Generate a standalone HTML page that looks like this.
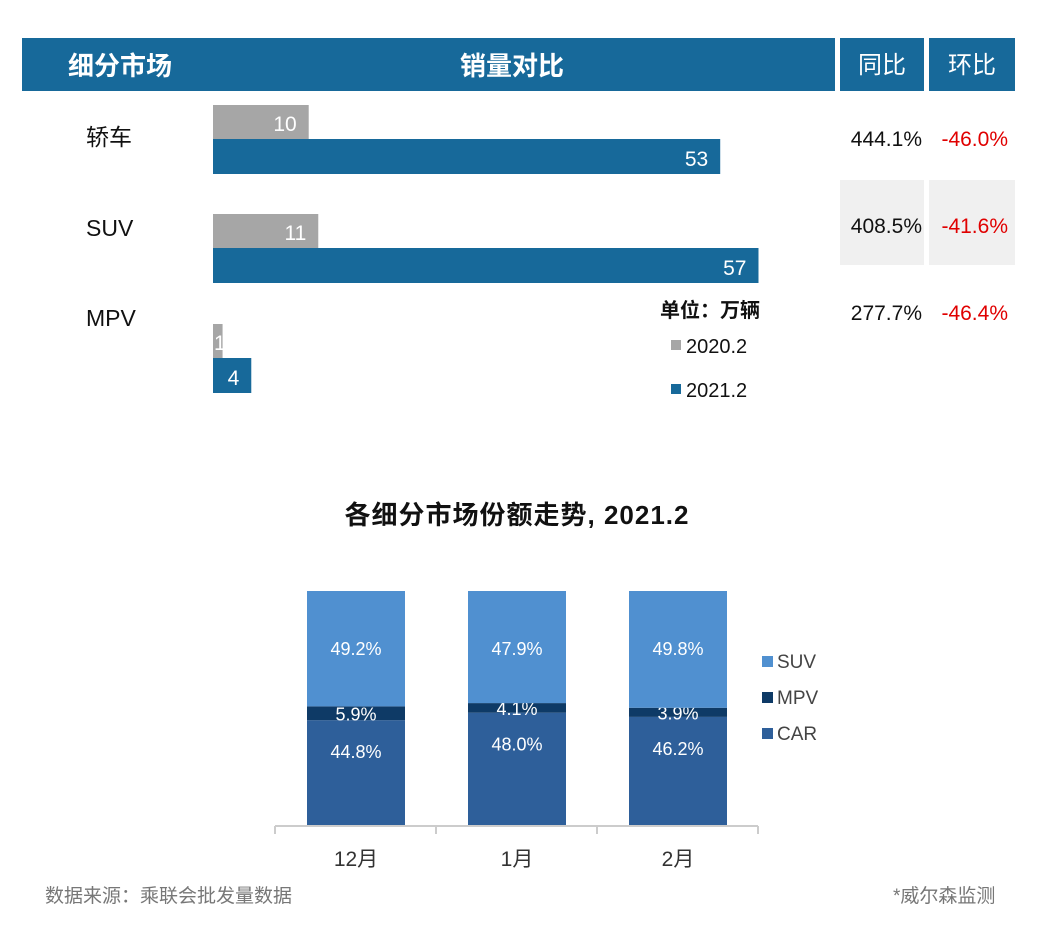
<!DOCTYPE html>
<html><head><meta charset="utf-8"><style>
body{margin:0;background:#fff;font-family:"Liberation Sans","Noto Sans CJK SC",sans-serif;}
#wrap{position:relative;width:1061px;height:925px;overflow:hidden;}
.abs{position:absolute;}
</style></head><body>
<div id="wrap">
<div class="abs" style="left:22px;top:38px;width:813px;height:53px;background:#17699a;"></div>
<div class="abs" style="left:68px;top:38px;line-height:56px;color:#fff;font-size:26px;font-weight:bold;">细分市场</div>
<div class="abs" style="left:460px;top:38px;line-height:56px;color:#fff;font-size:26px;font-weight:bold;">销量对比</div>
<div class="abs" style="left:840px;top:38px;width:84px;height:53px;line-height:56px;background:#17699a;color:#fff;font-size:24px;text-align:center;">同比</div>
<div class="abs" style="left:929px;top:38px;width:86px;height:53px;line-height:56px;background:#17699a;color:#fff;font-size:24px;text-align:center;">环比</div>
<div class="abs" style="left:840px;top:180px;width:84px;height:85px;background:#f0f0f0;"></div>
<div class="abs" style="left:929px;top:180px;width:86px;height:85px;background:#f0f0f0;"></div>
<svg class="abs" style="left:0;top:0" width="1061" height="925" id="svg"></svg>
<div class="abs" style="left:45px;top:881px;font-size:19px;color:#777;">数据来源：乘联会批发量数据</div>
<div class="abs" style="left:893px;top:881px;font-size:19px;color:#777;">*威尔森监测</div>
</div>
<script>
const segs=["轿车","SUV","MPV"];
const v2020=[10,11,1];
const v2021=[53,57,4];
const yoy=["444.1%","408.5%","277.7%"];
const mom=["-46.0%","-41.6%","-46.4%"];
const months=["12月","1月","2月"];
const suv=[49.2,47.9,49.8];
const mpv=[5.9,4.1,3.9];
const car=[44.8,48.0,46.2];
const NS="http://www.w3.org/2000/svg";
const svg=document.getElementById('svg');
function mk(t,a,txt){const e=document.createElementNS(NS,t);for(const k in a)e.setAttribute(k,a[k]);if(txt!==undefined)e.textContent=txt;svg.appendChild(e);return e;}
const x0=213,unit=9.57;
const bx=v=>x0+v*unit;
const rowTop=[105,214,324];
const labelY=[145,236,326];
const valY=[146,233,320];
segs.forEach((s,i)=>{
  const t=rowTop[i];
  let e=mk('text',{x:86,y:labelY[i],'font-size':23,fill:'#111'},s);
  
  e=mk('rect',{x:x0,y:t,width:bx(v2020[i])-x0,height:34,fill:'#a6a6a6'});
  
  const narrow=(bx(v2020[i])-x0)<30;
  e=mk('text',{x:narrow?x0+1:bx(v2020[i])-12,y:t+26,'font-size':21,fill:'#fff','text-anchor':narrow?'start':'end'},v2020[i]);
  
  e=mk('rect',{x:x0,y:t+34,width:bx(v2021[i])-x0,height:35,fill:'#17699a'});
  
  e=mk('text',{x:bx(v2021[i])-12,y:t+61,'font-size':21,fill:'#fff','text-anchor':'end'},v2021[i]);
  
  e=mk('text',{x:922,y:valY[i],'font-size':21,fill:'#111','text-anchor':'end'},yoy[i]);
  
  e=mk('text',{x:1008,y:valY[i],'font-size':21,fill:'#e00000','text-anchor':'end'},mom[i]);
  
});
let e=mk('text',{x:660,y:317,'font-size':20,'font-weight':'bold',fill:'#111'},'单位：万辆');

[['2020.2','#a6a6a6',353],['2021.2','#17699a',397]].forEach(l=>{
  let r=mk('rect',{x:671,y:l[2]-13,width:10,height:10,fill:l[1]});
  
  let t=mk('text',{x:686,y:l[2],'font-size':20,fill:'#111'},l[0]);
  
});
e=mk('text',{x:517,y:524,'font-size':26,'font-weight':'bold',fill:'#111','text-anchor':'middle','letter-spacing':'1'},'各细分市场份额走势, 2021.2');

const base=825,pu=2.34,bw=98;
const cx=i=>356+i*161;
const py=p=>base-p*pu;
e=mk('line',{x1:275,y1:826,x2:758,y2:826,stroke:'#ccc','stroke-width':2});

[0,1,2,3].forEach(k=>{let t=mk('line',{x1:275+k*161,y1:826,x2:275+k*161,y2:834,stroke:'#ccc','stroke-width':2});});
months.forEach((m,i)=>{
  const x=cx(i)-bw/2;
  const segsS=[[car[i],'#2e5f9a','car'],[mpv[i],'#0e3a66','mpv'],[suv[i],'#5090d0','suv']];
  let acc=0;
  segsS.forEach((s,j)=>{
    const y1=py(acc+s[0]), y0=py(acc);
    let r=mk('rect',{x:x,y:(j==2?py(100):y1),width:bw,height:(j==2?y0-py(100):y0-y1),fill:s[1]});
    
    let ly=(j==1)?(y0+y1)/2+7:(j==0?y1+38:py(100)+64);
    let t=mk('text',{x:cx(i),y:ly,'font-size':18,fill:'#fff','text-anchor':'middle'},s[0].toFixed(1)+'%');
    
    acc+=s[0];
  });
  let t=mk('text',{x:cx(i),y:866,'font-size':21,fill:'#333','text-anchor':'middle'},m);
  
});
[['SUV','#5090d0',668],['MPV','#0e3a66',704],['CAR','#2e5f9a',740]].forEach(l=>{
  let r=mk('rect',{x:762,y:l[2]-12,width:11,height:11,fill:l[1]});
  
  let t=mk('text',{x:777,y:l[2],'font-size':19,fill:'#444'},l[0]);
  
});
</script>
</body></html>
